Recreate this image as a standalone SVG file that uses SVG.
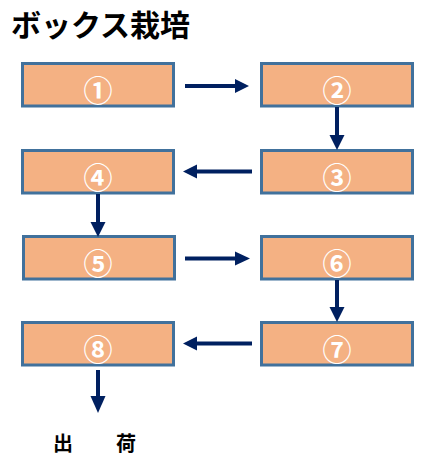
<svg xmlns="http://www.w3.org/2000/svg" width="442" height="463" viewBox="0 0 442 463">
<style>
.box{fill:#F4B183;stroke:#41719C;stroke-width:3}
.num{fill:#fff;font-family:"Noto Sans CJK JP",sans-serif;font-weight:bold;font-size:29px;text-anchor:middle;dominant-baseline:central}
.ln{stroke:#002060;stroke-width:4;fill:none}
.hd{fill:#002060}
.t{font-family:"Noto Sans CJK JP",sans-serif;font-weight:bold;fill:#000}
</style>
<rect width="442" height="463" fill="#fff"/>
<text class="t" x="11" y="36" font-size="30">ボックス栽培</text>
<g id="n1"><rect class="box" x="22.5" y="63.5" width="151" height="42.5"/><text class="num" x="98" y="89">①</text></g>
<g id="n2"><rect class="box" x="261.5" y="63.5" width="151" height="42.5"/><text class="num" x="337" y="89">②</text></g>
<g id="n3"><rect class="box" x="261.5" y="150.5" width="151" height="42.5"/><text class="num" x="337" y="176">③</text></g>
<g id="n4"><rect class="box" x="22.5" y="150.5" width="151" height="42.5"/><text class="num" x="98" y="176">④</text></g>
<g id="n5"><rect class="box" x="23.5" y="236.5" width="151" height="42.5"/><text class="num" x="98" y="262">⑤</text></g>
<g id="n6"><rect class="box" x="261.5" y="236.5" width="151" height="42.5"/><text class="num" x="337" y="262">⑥</text></g>
<g id="n7"><rect class="box" x="261.5" y="322.5" width="151" height="42.5"/><text class="num" x="337" y="348">⑦</text></g>
<g id="n8"><rect class="box" x="22.5" y="322.5" width="151" height="42.5"/><text class="num" x="98" y="348">⑧</text></g>
<g id="connectors">
<line class="ln" x1="185" y1="86" x2="236" y2="86"/><polygon class="hd" points="235,79 249,86 235,93"/>
<line class="ln" x1="337" y1="107" x2="337" y2="136"/><polygon class="hd" points="329.5,135 344.5,135 337,150"/>
<line class="ln" x1="252" y1="171.5" x2="196" y2="171.5"/><polygon class="hd" points="197,164.5 183,171.5 197,178.5"/>
<line class="ln" x1="98" y1="194" x2="98" y2="223"/><polygon class="hd" points="90.5,222 105.5,222 98,237"/>
<line class="ln" x1="185" y1="258.5" x2="236" y2="258.5"/><polygon class="hd" points="235,251.5 250,258.5 235,265.5"/>
<line class="ln" x1="337" y1="280" x2="337" y2="308"/><polygon class="hd" points="329.5,307 344.5,307 337,322"/>
<line class="ln" x1="252" y1="343.5" x2="196" y2="343.5"/><polygon class="hd" points="197,336.5 183,343.5 197,350.5"/>
<line class="ln" x1="98" y1="370" x2="98" y2="397"/><polygon class="hd" points="90.5,396 105.5,396 98,413"/>
</g>
<text class="t" x="53" y="451" font-size="20">出</text>
<text class="t" x="116" y="451" font-size="20">荷</text>
</svg>
